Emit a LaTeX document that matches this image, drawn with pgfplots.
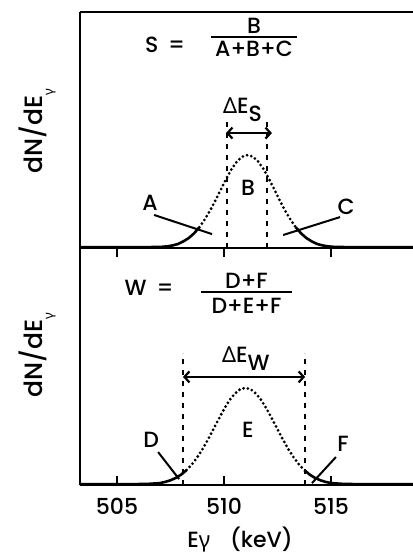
\documentclass[border=0pt]{standalone}
\usepackage{pgfplots}
\pgfplotsset{compat=1.18}
\usetikzlibrary{arrows.meta}
\usepackage{fontspec}
\setmainfont{Poppins}[UprightFont={* Medium}]
\newfontfamily\gr{Noto Sans}
\newcommand\F{\fontsize{22}{25}\selectfont}
\begin{document}
\begin{tikzpicture}
\pgfplotsset{
  panel/.style={scale only axis, width=333pt, xmin=503.27, xmax=518.83, ymin=0, ymax=1,
    separate axis lines, axis x line*=box, axis y line*=left,
    axis line style={line width=2pt}, ytick=\empty, clip=false,
    /pgf/number format/assume math mode=true},
  solid/.style={black, line width=2.6pt, line join=round},
  dots/.style={black, line width=3.1pt, line cap=round, dash pattern=on 0pt off 4.4pt},
  vdash/.style={black, line width=2.2pt, dash pattern=on 5pt off 6pt},
  lead/.style={black, line width=2pt},
  darr/.style={black, line width=2.2pt, {Straight Barb[length=5pt,width=11pt]}-{Straight Barb[length=5pt,width=11pt]}},
}
% ---------------- bottom panel ----------------
\begin{axis}[panel, name=bot, at={(0,0)}, anchor=south west, height=237pt,
  xtick={505,510,515}, xtick pos=both, xticklabel pos=lower, tick align=inside,
  major tick length=9pt, every tick/.style={black, line width=2pt},
  xticklabel style={font=\F, yshift=-10pt}]
\addplot[solid] coordinates {(503.27,0.003) (505,0.003) (506,0.004) (506.5,0.005) (507,0.008) (507.25,0.013) (507.5,0.020) (507.75,0.030) (508,0.044) (508.25,0.063)};
\addplot[dots] coordinates {(508.25,0.063) (508.5,0.087) (508.75,0.117) (509,0.152) (509.25,0.192) (509.5,0.235) (509.75,0.278) (510,0.320) (510.25,0.357) (510.5,0.385) (510.75,0.404) (511,0.410) (511.25,0.404) (511.5,0.385) (511.75,0.357) (512,0.320) (512.25,0.278) (512.5,0.235) (512.75,0.192) (513,0.152) (513.25,0.117) (513.5,0.087) (513.75,0.063)};
\addplot[solid] coordinates {(513.75,0.063) (514,0.044) (514.25,0.030) (514.5,0.020) (514.75,0.013) (515,0.008) (515.5,0.005) (516,0.004) (518.83,0.003)};
\addplot[vdash] coordinates {(508.08,0) (508.08,0.557)};
\addplot[vdash] coordinates {(513.79,0) (513.79,0.557)};
\addplot[darr] coordinates {(508.08,0.456) (513.79,0.456)};
\addplot[lead] coordinates {(506.92,0.139) (507.9,0.025)};
\addplot[lead] coordinates {(515.23,0.118) (514.11,0.008)};
\addplot[black, line width=2pt] coordinates {(508.93,0.814) (513.18,0.814)};
\node[font=\F] at (axis cs:511.05,0.86) {D+F};
\node[font=\F] at (axis cs:511.05,0.755) {D+E+F};
\node[font=\F] at (axis cs:506.5,0.83) {W\hspace{0.45em}=};
\node[font=\F, anchor=base west, inner sep=0pt] at (axis cs:509.9,0.515) {{\gr Δ}E\raisebox{-8pt}{W}};
\node[font=\F] at (axis cs:506.59,0.19) {D};
\node[font=\F] at (axis cs:511.12,0.232) {E};
\node[font=\F] at (axis cs:515.56,0.173) {F};
\node[rotate=90, font=\fontsize{25}{27}\selectfont] at (axis cs:501.28,0.549) {dN/dE\raisebox{-10pt}{\fontsize{13}{13}\selectfont\gr γ}};
\node[font=\F] at (axis cs:510.75,-0.232) {E{\gr γ}\hspace{0.9em}(keV)};
\end{axis}
% ---------------- top panel ----------------
\begin{axis}[panel, name=top, at={(0,237pt)}, anchor=south west, height=236pt, xtick=\empty]
\addplot[solid] coordinates {(503.27,0.003) (505,0.003) (506.1,0.003) (506.6,0.004) (507.1,0.005) (507.35,0.007) (507.6,0.011) (507.85,0.017) (508.1,0.028) (508.35,0.042) (508.6,0.062) (508.85,0.088)};
\addplot[dots] coordinates {(508.85,0.088) (509.1,0.121) (509.35,0.159) (509.6,0.202) (509.85,0.248) (510.1,0.293) (510.35,0.334) (510.6,0.366) (510.85,0.387) (511.1,0.394) (511.35,0.387) (511.6,0.366) (511.85,0.334) (512.1,0.293) (512.35,0.248) (512.6,0.202) (512.85,0.159) (513.1,0.121) (513.35,0.088)};
\addplot[solid] coordinates {(513.35,0.088) (513.6,0.062) (513.85,0.042) (514.1,0.028) (514.35,0.017) (514.6,0.011) (514.85,0.007) (515.1,0.005) (515.6,0.004) (516.1,0.003) (518.83,0.003)};
\addplot[vdash] coordinates {(510.14,0) (510.14,0.55)};
\addplot[vdash] coordinates {(512.0,0) (512.0,0.55)};
\addplot[darr] coordinates {(510.09,0.487) (512.24,0.487)};
\addplot[lead] coordinates {(506.73,0.14) (509.44,0.059)};
\addplot[lead] coordinates {(512.76,0.055) (515.42,0.131)};
\addplot[black, line width=2pt] coordinates {(509.39,0.894) (513.41,0.894)};
\node[font=\F] at (axis cs:511.4,0.942) {B};
\node[font=\F] at (axis cs:511.4,0.846) {A+B+C};
\node[font=\F] at (axis cs:507.25,0.86) {S\hspace{0.45em}=};
\node[font=\F, anchor=base west, inner sep=0pt] at (axis cs:509.95,0.572) {{\gr Δ}E\raisebox{-8pt}{S}};
\node[font=\F] at (axis cs:506.54,0.19) {A};
\node[font=\F] at (axis cs:511.12,0.254) {B};
\node[font=\F] at (axis cs:515.7,0.174) {C};
\node[rotate=90, font=\fontsize{25}{27}\selectfont] at (axis cs:501.28,0.496) {dN/dE\raisebox{-10pt}{\fontsize{13}{13}\selectfont\gr γ}};
\end{axis}
\pgfresetboundingbox
\useasboundingbox (-80pt,-73pt) rectangle (333pt,485pt);
\end{tikzpicture}
\end{document}
